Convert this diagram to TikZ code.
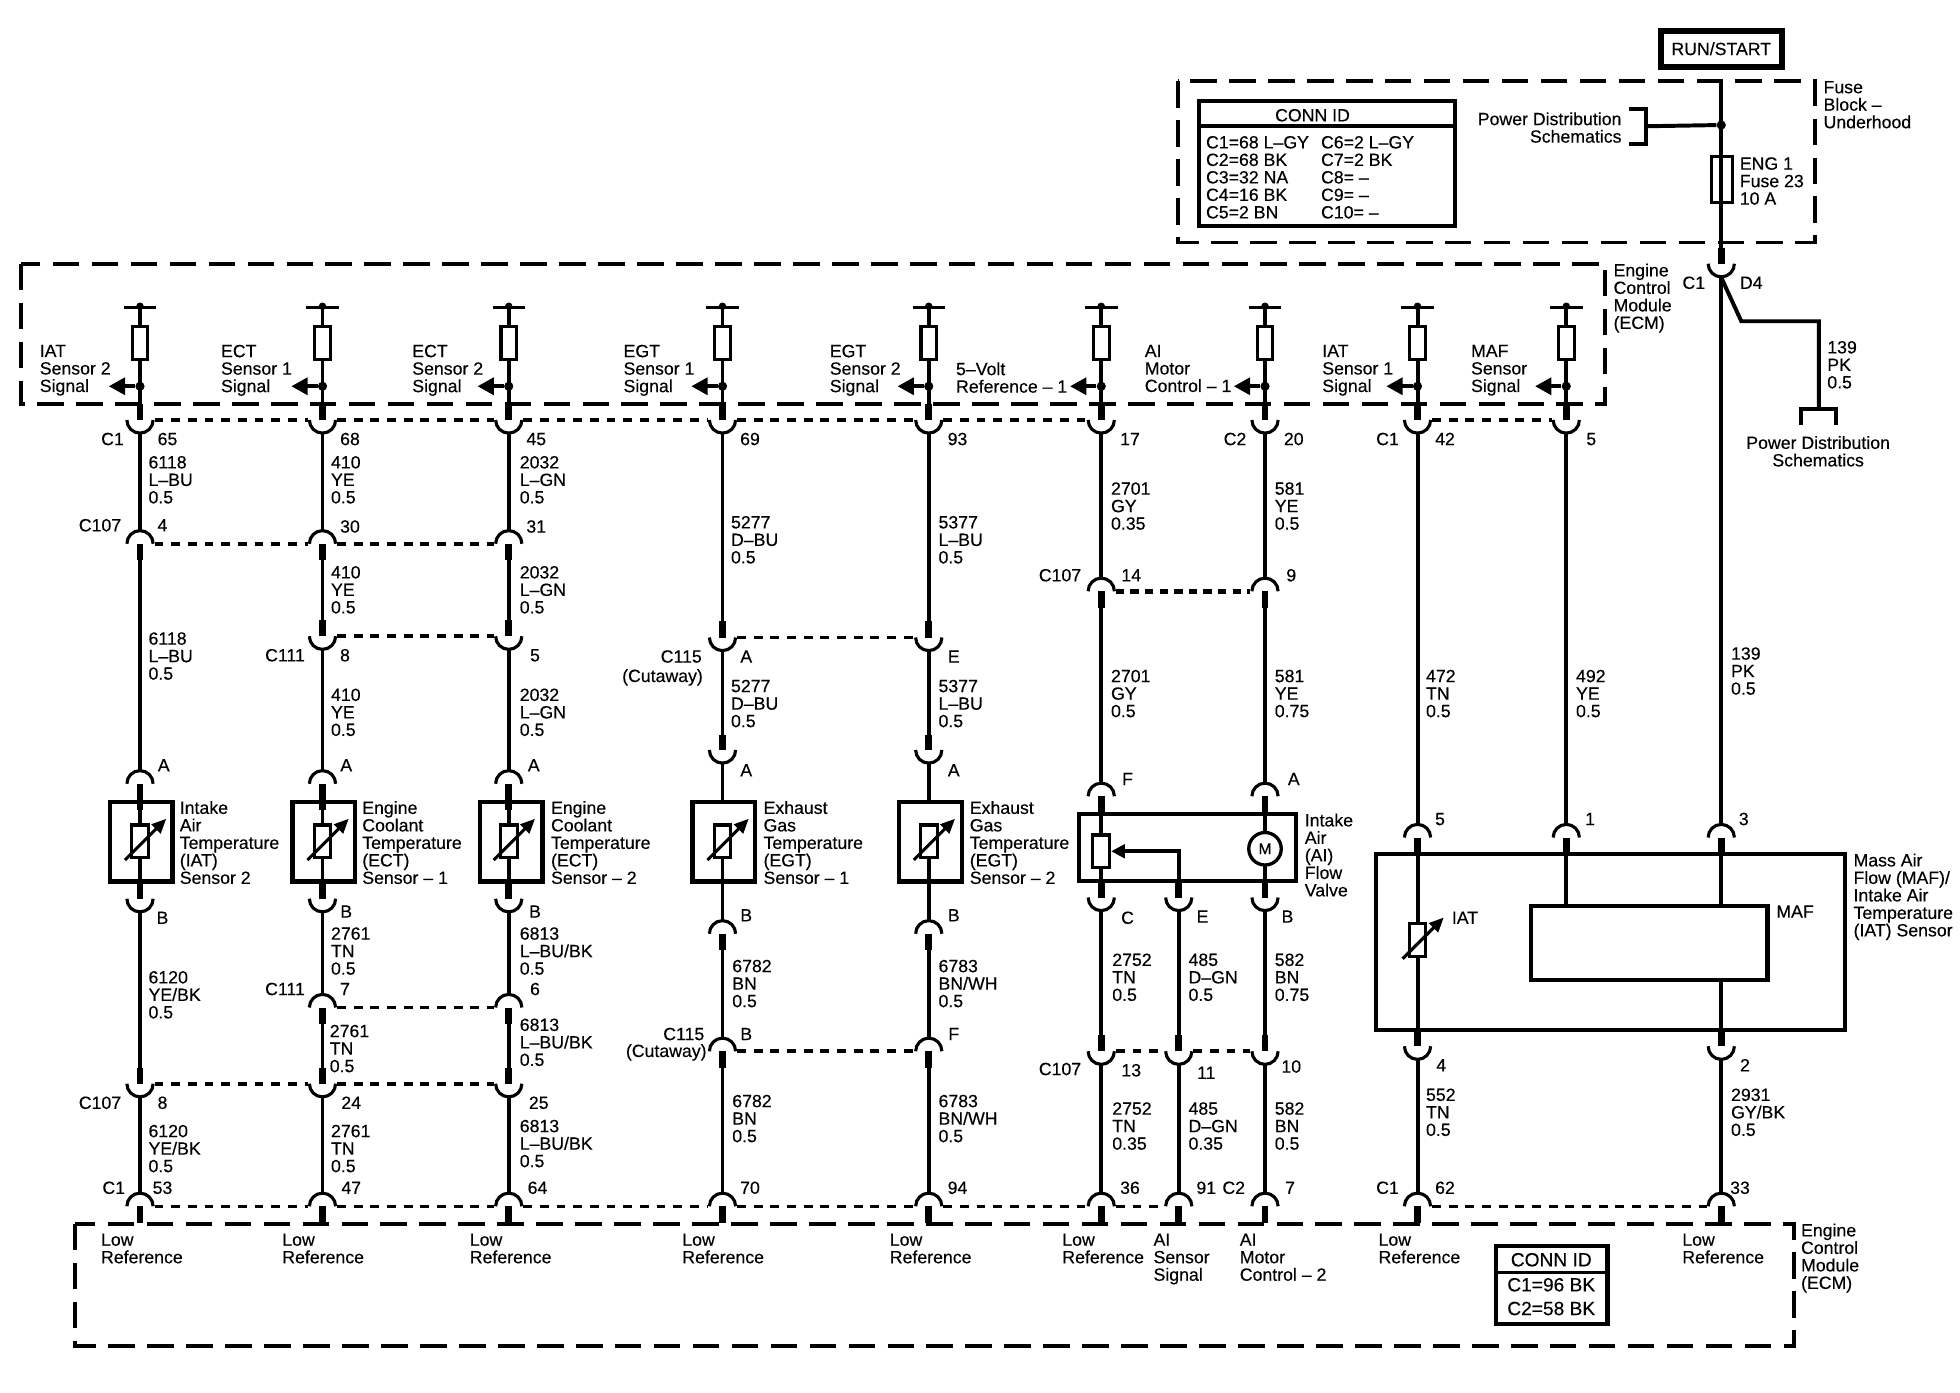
\documentclass[tikz,border=0pt]{standalone}
\usepackage{fontspec}
\setmainfont{Liberation Sans}[FakeBold=0.3]
\usepackage{tikz}
\usetikzlibrary{arrows.meta}

\tikzset{
  wire/.style={line width=1.9pt},
  stub/.style={line width=3.3pt},
  conn/.style={line width=1.5pt},
  conndash/.style={line width=1.7pt,dash pattern=on 4.2pt off 3.8pt,shorten <=7pt,shorten >=7pt},
  frame/.style={line width=1.9pt,dash pattern=on 12.8pt off 5.9pt},
  boxline/.style={line width=1.8pt},
  sensor/.style={draw,line width=2pt,minimum width=30pt,minimum height=38pt,inner sep=0pt},
  pinres/.style={draw,fill=white,line width=1.5pt,minimum width=7.5pt,minimum height=16pt,inner sep=0pt},
  dot/.style={circle,fill=black,minimum size=4.4pt,inner sep=0pt},
  wirelbl/.style={anchor=north west,inner sep=0pt,align=left,yshift=3.3pt,xshift=-0.3pt,
    font=\fontsize{8.5}{8.4}\selectfont,execute at begin node=\strut},
  rightlbl/.style={wirelbl,anchor=north east,align=right},
  midlbl/.style={wirelbl,anchor=north,align=center},
  pinlbl/.style={anchor=center,inner sep=0pt,text height=6.1pt,text depth=0pt,
    font=\fontsize{8.5}{8.4}\selectfont}
}

% connector open upwards, stub comes from above
\newcommand{\cupconn}[4][13]{%
  \coordinate (#2) at (#3,#4);
  \coordinate (#2t) at (#3,#4-#1);
  \coordinate (#2b) at (#3,#4+11);
  \draw[stub] (#2t) -- (#2);
  \draw[conn] (#3-10.5,#4) arc[start angle=180,end angle=0,radius=10.5];
}
% connector open downwards, stub leaves below
\newcommand{\capconn}[4][13]{%
  \coordinate (#2) at (#3,#4);
  \coordinate (#2t) at (#3,#4-11);
  \coordinate (#2b) at (#3,#4+#1);
  \draw[stub] (#2) -- (#2b);
  \draw[conn] (#3-10.5,#4) arc[start angle=180,end angle=360,radius=10.5];
}
% pin inside the upper ECM frame
\newcommand{\ecmpin}[2]{%
  \coordinate (#1T) at (#2,246);
  \coordinate (#1E) at (#2,323);
  \coordinate (#1A) at (#2-25,309);
  \draw[wire] (#2-13,246) -- (#2+13,246);
  \node[dot,minimum size=3.6pt] (#1U) at (#2,245) {};
  \draw[wire] (#1T) -- (#1E);
  \node[pinres] (#1R) at (#2,274.5) {};
  \node[dot] (#1D) at (#2,309) {};
  \draw[wire,-{Triangle[length=7.8pt,width=8pt]}] (#1D) -- (#1A);
}
% variable resistor with its arrow
\newcommand{\thermist}[3]{%
  \node[pinres,minimum width=8pt,minimum height=15.6pt] (#1) at (#2,#3+13) {};
  \draw[conn,-{Triangle[length=7pt,width=6pt]}] (#2-12,#3+28) -- (#2+21,#3-5);
}

\begin{document}
\begin{tikzpicture}[x=0.6pt,y=-0.6pt]
\useasboundingbox (0,0) rectangle (1568,1114);

% Frames
\draw[frame] (942,65) rectangle (1452,194);
\draw[frame] (17,211) rectangle (1284,323);
\draw[frame] (60,979) rectangle (1435,1077);

% Supply
\node[draw,line width=3pt,minimum width=58pt,minimum height=17.4pt,inner sep=0pt,font=\fontsize{8.5}{8.4}\selectfont] (run) at (1377,39) {RUN/START};
\coordinate (fbtop) at (1377,65);
\cupconn{k0}{1377}{211}
\draw[wire] (fbtop) -- (k0t);
\node[dot] (pd) at (1377,100) {};
\coordinate (pdb) at (1317,101);
\draw[wire] (pd) -- (pdb);
\draw[boxline] (1303,87) -- (1317,87) -- (1317,115) -- (1303,115);
\node[pinres,fill=none,minimum width=10pt,minimum height=22pt] (fuse) at (1377.5,143.5) {};
\coordinate (pdc) at (1455,327);
\draw[wire] (k0b) -- (1393,257) -- (1455,257) -- (pdc);
\draw[boxline] (1441,340) -- (1441,327) -- (1469,327) -- (1469,340);

% ECM pins
\ecmpin{pa}{112}
\ecmpin{pb}{258}
\ecmpin{pc}{407}
\ecmpin{pd}{578}
\ecmpin{pe}{743}
\ecmpin{pf}{881}
\ecmpin{ph}{1012}
\ecmpin{pi}{1134}
\ecmpin{pj}{1253}

% Column IAT 2
\cupconn{a1}{112}{336}
\capconn{a2}{112}{435}
\capconn[21]{a3}{112}{627}
\cupconn{a4}{112}{719}
\cupconn{a5}{112}{867}
\capconn{a6}{112}{965}
\draw[wire] (a1b) -- (a2t);
\draw[wire] (a2b) -- (a3t);
\draw[wire] (a3b) -- (a4t);
\draw[wire] (a4b) -- (a5t);
\draw[wire] (a5b) -- (a6t);
\node[sensor] (sa) at (113,673.5) {};
\thermist{ta}{112}{660}

% Column ECT 1
\cupconn{b1}{258}{336}
\capconn{b2}{258}{435}
\cupconn{b3}{258}{509}
\capconn[21]{b4}{258}{627}
\cupconn{b5}{258}{719}
\capconn{b6}{258}{806}
\cupconn{b7}{258}{867}
\capconn{b8}{258}{965}
\draw[wire] (b1b) -- (b2t);
\draw[wire] (b2b) -- (b3t);
\draw[wire] (b3b) -- (b4t);
\draw[wire] (b4b) -- (b5t);
\draw[wire] (b5b) -- (b6t);
\draw[wire] (b6b) -- (b7t);
\draw[wire] (b7b) -- (b8t);
\node[sensor] (sb) at (259,673.5) {};
\thermist{tb}{258}{660}

% Column ECT 2
\cupconn{c1}{407}{336}
\capconn{c2}{407}{435}
\cupconn{c3}{407}{509}
\capconn[21]{c4}{407}{627}
\cupconn{c5}{407}{719}
\capconn{c6}{407}{806}
\cupconn{c7}{407}{867}
\capconn{c8}{407}{965}
\draw[wire] (c1b) -- (c2t);
\draw[wire] (c2b) -- (c3t);
\draw[wire] (c3b) -- (c4t);
\draw[wire] (c4b) -- (c5t);
\draw[wire] (c5b) -- (c6t);
\draw[wire] (c6b) -- (c7t);
\draw[wire] (c7b) -- (c8t);
\node[sensor] (sc) at (409,673.5) {};
\thermist{tc}{407}{660}

% Column EGT 1
\cupconn{d1}{578}{336}
\cupconn{d2}{578}{510}
\cupconn[12]{d3}{578}{600}
\capconn{d4}{578}{747}
\capconn{d5}{578}{841}
\capconn{d6}{578}{965}
\node[sensor] (sd) at (579,673.5) {};
\thermist{td}{578}{660}
\draw[wire] (d1b) -- (d2t);
\draw[wire] (d2b) -- (d3t);
\draw[wire] (d3b) -- (d3b |- sd.north);
\draw[wire] (td.south) -- (d4t);
\draw[wire] (d4b) -- (d5t);
\draw[wire] (d5b) -- (d6t);

% Column EGT 2
\cupconn{e1}{743}{336}
\cupconn{e2}{743}{510}
\cupconn[12]{e3}{743}{600}
\capconn{e4}{743}{747}
\capconn{e5}{743}{841}
\capconn{e6}{743}{965}
\node[sensor] (se) at (744.5,673.5) {};
\thermist{te}{743}{660}
\draw[wire] (e1b) -- (e2t);
\draw[wire] (e2b) -- (e3t);
\draw[wire] (e3b) -- (e3b |- se.north);
\draw[wire] (te.south) -- (e4t);
\draw[wire] (e4b) -- (e5t);
\draw[wire] (e5b) -- (e6t);

% Column AI valve
\cupconn{f1}{881}{336}
\capconn{f2}{881}{473}
\capconn{f3}{881}{637}
\cupconn{f4}{881}{718}
\cupconn{f5}{881}{841}
\capconn{f6}{881}{965}
\cupconn{g1}{943}{718}
\cupconn{g2}{943}{841}
\capconn{g3}{943}{965}
\cupconn{h1}{1012}{336}
\capconn{h2}{1012}{473}
\capconn{h3}{1012}{637}
\cupconn{h4}{1012}{718}
\cupconn{h5}{1012}{841}
\capconn{h6}{1012}{965}
\draw[wire] (f1b) -- (f2t);
\draw[wire] (f2b) -- (f3t);
\draw[wire] (f3b) -- (f4t);
\draw[wire] (f4b) -- (f5t);
\draw[wire] (f5b) -- (f6t);
\draw[wire] (g1b) -- (g2t);
\draw[wire] (g2b) -- (g3t);
\draw[wire] (h1b) -- (h2t);
\draw[wire] (h2b) -- (h3t);
\draw[wire] (h3b) -- (h4t);
\draw[wire] (h4b) -- (h5t);
\draw[wire] (h5b) -- (h6t);
\draw[line width=2pt] (863,651) rectangle (1037,705);
\node[pinres,minimum width=8pt,minimum height=15.6pt] (pot) at (881,681) {};
\draw[wire,-{Triangle[length=6.6pt,width=6.5pt]}] (g1t) |- (pot.east);
\node[circle,draw,fill=white,line width=1.6pt,minimum size=15.6pt,inner sep=0pt,font=\fontsize{7.5}{8}\selectfont] (motor) at (1012,679) {M};

% Columns MAF/IAT
\cupconn{i1}{1134}{336}
\capconn{i2}{1134}{670}
\cupconn{i3}{1134}{837}
\capconn{i4}{1134}{965}
\cupconn{j1}{1253}{336}
\capconn{j2}{1253}{670}
\capconn{k1}{1377}{670}
\cupconn{k2}{1377}{837}
\capconn{k3}{1377}{965}
\draw[wire] (i1b) -- (i2t);
\draw[wire] (i2b) -- (i3t);
\draw[wire] (i3b) -- (i4t);
\draw[wire] (j1b) -- (j2t);
\draw[wire] (k0b) -- (k1t);
\draw[wire] (k1b) -- (k2t);
\draw[wire] (k2b) -- (k3t);
\draw[line width=2pt] (1101,683) rectangle (1476,824);
\thermist{ti}{1134}{739}
\node[draw,fill=white,line width=2pt,minimum width=113.4pt,minimum height=35.4pt,inner sep=0pt] (maf) at (1319.5,754.5) {};
\draw[wire] (j2b) -- (j2b |- maf.north);

% Dashed connector bodies
\draw[conndash] (a1) -- (b1);
\draw[conndash] (b1) -- (c1);
\draw[conndash] (c1) -- (d1);
\draw[conndash] (d1) -- (e1);
\draw[conndash] (e1) -- (f1);
\draw[conndash] (i1) -- (j1);
\draw[conndash] (a2) -- (b2);
\draw[conndash] (b2) -- (c2);
\draw[conndash] (b3) -- (c3);
\draw[conndash] (d2) -- (e2);
\draw[conndash,line width=2.2pt,dash pattern=on 4pt off 3pt] (f2) -- (h2);
\draw[conndash] (b6) -- (c6);
\draw[conndash] (a5) -- (b7);
\draw[conndash] (b7) -- (c7);
\draw[conndash] (d5) -- (e5);
\draw[conndash] (f5) -- (g2);
\draw[conndash] (g2) -- (h5);
\draw[conndash,line width=1.4pt] (a6) -- (b8);
\draw[conndash,line width=1.4pt] (b8) -- (c8);
\draw[conndash,line width=1.4pt] (c8) -- (d6);
\draw[conndash,line width=1.4pt] (d6) -- (e6);
\draw[conndash,line width=1.4pt] (e6) -- (f6);
\draw[conndash,line width=1.4pt] (f6) -- (g3);
\draw[conndash,line width=1.4pt] (i4) -- (k3);

% Conn ID tables
\draw[boxline] (959,81) rectangle (1164,181);
\draw[boxline] (959,101) -- (1164,101);
\node[pinlbl] (tabhead) at (1050,92) {CONN ID};
\node[wirelbl] (tableft) at (965,114) {C1=68 L–GY\\C2=68 BK\\C3=32 NA\\C4=16 BK\\C5=2 BN};
\node[wirelbl] (tabright) at (1057,114) {C6=2 L–GY\\C7=2 BK\\C8= –\\C9= –\\C10= –};
\draw[boxline,line width=2pt] (1197,997) rectangle (1286,1059);
\draw[boxline] (1197,1018) -- (1286,1018);
\node[pinlbl,font=\fontsize{9.2}{9}\selectfont] (tab2head) at (1241,1008) {CONN ID};
\node[pinlbl,font=\fontsize{9.2}{9}\selectfont] (tab2a) at (1241,1028) {C1=96 BK};
\node[pinlbl,font=\fontsize{9.2}{9}\selectfont] (tab2b) at (1241,1047) {C2=58 BK};

% Texts for frames and supply
\node[wirelbl] (fbname) at (1459,70) {Fuse\\Block –\\Underhood};
\node[wirelbl] (ecmtop) at (1291,216) {Engine\\Control\\Module\\(ECM)};
\node[wirelbl] (ecmbot) at (1441,984) {Engine\\Control\\Module\\(ECM)};
\node[rightlbl] (pdtext) at (1298,95) {Power Distribution\\Schematics};
\node[wirelbl] (fusetext) at (1392,131) {ENG 1\\Fuse 23\\10 A};
\node[midlbl] (pdtext2) at (1455,354) {Power Distribution\\Schematics};
\node[wirelbl] (w139a) at (1462,278) {139\\PK\\0.5};
\node[pinlbl] (lc1k) at (1355,226) {C1};
\node[pinlbl] (ld4) at (1401,226) {D4};

% Texts for ECM pins
\node[wirelbl] (sg1) at (32,281) {IAT\\Sensor 2\\Signal};
\node[wirelbl] (sg2) at (177,281) {ECT\\Sensor 1\\Signal};
\node[wirelbl] (sg3) at (330,281) {ECT\\Sensor 2\\Signal};
\node[wirelbl] (sg4) at (499,281) {EGT\\Sensor 1\\Signal};
\node[wirelbl] (sg5) at (664,281) {EGT\\Sensor 2\\Signal};
\node[wirelbl] (sg6) at (765,295) {5–Volt\\Reference – 1};
\node[wirelbl] (sg7) at (916,281) {AI\\Motor\\Control – 1};
\node[wirelbl] (sg8) at (1058,281) {IAT\\Sensor 1\\Signal};
\node[wirelbl] (sg9) at (1177,281) {MAF\\Sensor\\Signal};

% Upper C1 / C2 pins
\node[pinlbl] (lc1a) at (90,351) {C1};
\node[pinlbl] (n65) at (134,351) {65};
\node[pinlbl] (n68) at (280,351) {68};
\node[pinlbl] (n45) at (429,351) {45};
\node[pinlbl] (n69) at (600,351) {69};
\node[pinlbl] (n93) at (766,351) {93};
\node[pinlbl] (n17) at (904,351) {17};
\node[pinlbl] (lc2a) at (988,351) {C2};
\node[pinlbl] (n20) at (1035,351) {20};
\node[pinlbl] (lc1i) at (1110,351) {C1};
\node[pinlbl] (n42) at (1156,351) {42};
\node[pinlbl] (n5j) at (1273,351) {5};

% Upper C107 / C111 / C115 pins
\node[pinlbl] (lc107a) at (80,420) {C107};
\node[pinlbl] (n4) at (130,420) {4};
\node[pinlbl] (n30) at (280,421) {30};
\node[pinlbl] (n31) at (429,421) {31};
\node[pinlbl] (lc107f) at (848,460) {C107};
\node[pinlbl] (n14) at (905,460) {14};
\node[pinlbl] (n9) at (1033,460) {9};
\node[pinlbl] (lc111a) at (228,524) {C111};
\node[pinlbl] (n8b) at (276,524) {8};
\node[pinlbl] (n5c) at (428,524) {5};
\node[pinlbl] (lc115a) at (545,525) {C115};
\node[pinlbl,text depth=1.8pt] (lcuta) at (530,542) {(Cutaway)};
\node[pinlbl] (pAd) at (597,525) {A};
\node[pinlbl] (pEe) at (763,525) {E};

% Sensor pins, upper side
\node[pinlbl] (pAa) at (131,612) {A};
\node[pinlbl] (pAb) at (277,612) {A};
\node[pinlbl] (pAc) at (427,612) {A};
\node[pinlbl] (pAd2) at (597,616) {A};
\node[pinlbl] (pAe2) at (763,616) {A};
\node[pinlbl] (pFf) at (902,623) {F};
\node[pinlbl] (pAh) at (1035,623) {A};
\node[pinlbl] (n5i) at (1152,655) {5};
\node[pinlbl] (n1j) at (1272,655) {1};
\node[pinlbl] (n3k) at (1395,655) {3};

% Sensor names
\node[wirelbl] (nma) at (144,646) {Intake\\Air\\Temperature\\(IAT)\\Sensor 2};
\node[wirelbl] (nmb) at (290,646) {Engine\\Coolant\\Temperature\\(ECT)\\Sensor – 1};
\node[wirelbl] (nmc) at (441,646) {Engine\\Coolant\\Temperature\\(ECT)\\Sensor – 2};
\node[wirelbl] (nmd) at (611,646) {Exhaust\\Gas\\Temperature\\(EGT)\\Sensor – 1};
\node[wirelbl] (nme) at (776,646) {Exhaust\\Gas\\Temperature\\(EGT)\\Sensor – 2};
\node[wirelbl] (nmf) at (1044,656) {Intake\\Air\\(AI)\\Flow\\Valve};
\node[wirelbl] (nmi) at (1483,688) {Mass Air\\Flow (MAF)/\\Intake Air\\Temperature\\(IAT) Sensor};
\node[pinlbl] (niat) at (1172,734) {IAT};
\node[pinlbl] (nmaf) at (1436,729) {MAF};

% Sensor pins, lower side
\node[pinlbl] (pBa) at (130,734) {B};
\node[pinlbl] (pBb) at (277,729) {B};
\node[pinlbl] (pBc) at (428,729) {B};
\node[pinlbl] (pBd) at (597,732) {B};
\node[pinlbl] (pBe) at (763,732) {B};
\node[pinlbl] (pCf) at (902,734) {C};
\node[pinlbl] (pEg) at (962,733) {E};
\node[pinlbl] (pBh) at (1030,733) {B};
\node[pinlbl] (n4i) at (1153,852) {4};
\node[pinlbl] (n2k) at (1396,852) {2};

% Lower C111 / C115 / C107 pins
\node[pinlbl] (lc111b) at (228,791) {C111};
\node[pinlbl] (n7) at (276,791) {7};
\node[pinlbl] (n6) at (428,791) {6};
\node[pinlbl] (lc115b) at (547,827) {C115};
\node[pinlbl,text depth=1.8pt] (lcutb) at (533,842) {(Cutaway)};
\node[pinlbl] (pBd2) at (597,827) {B};
\node[pinlbl] (pFe) at (763,827) {F};
\node[pinlbl] (lc107f2) at (848,855) {C107};
\node[pinlbl] (n13) at (905,856) {13};
\node[pinlbl] (n11) at (965,858) {11};
\node[pinlbl] (n10) at (1033,853) {10};
\node[pinlbl] (lc107b) at (80,882) {C107};
\node[pinlbl] (n8a) at (130,882) {8};
\node[pinlbl] (n24) at (281,882) {24};
\node[pinlbl] (n25) at (431,882) {25};

% Lower C1 / C2 pins
\node[pinlbl] (lc1b) at (91,950) {C1};
\node[pinlbl] (n53) at (130,950) {53};
\node[pinlbl] (n47) at (281,950) {47};
\node[pinlbl] (n64) at (430,950) {64};
\node[pinlbl] (n70) at (600,950) {70};
\node[pinlbl] (n94) at (766,950) {94};
\node[pinlbl] (n36) at (904,950) {36};
\node[pinlbl] (n91) at (965,950) {91};
\node[pinlbl] (lc2b) at (987,950) {C2};
\node[pinlbl] (n7h) at (1032,950) {7};
\node[pinlbl] (lc1c) at (1110,950) {C1};
\node[pinlbl] (n62) at (1156,950) {62};
\node[pinlbl] (n33) at (1392,950) {33};

% Wire data, first stretch
\node[wirelbl] (wa1) at (119,370) {6118\\L–BU\\0.5};
\node[wirelbl] (wb1) at (265,370) {410\\YE\\0.5};
\node[wirelbl] (wc1) at (416,370) {2032\\L–GN\\0.5};
\node[wirelbl] (wd1) at (585,418) {5277\\D–BU\\0.5};
\node[wirelbl] (we1) at (751,418) {5377\\L–BU\\0.5};
\node[wirelbl] (wf1) at (889,391) {2701\\GY\\0.35};
\node[wirelbl] (wh1) at (1020,391) {581\\YE\\0.5};
\node[wirelbl] (wi1) at (1141,541) {472\\TN\\0.5};
\node[wirelbl] (wj1) at (1261,541) {492\\YE\\0.5};
\node[wirelbl] (wk1) at (1385,523) {139\\PK\\0.5};

% Wire data, second stretch
\node[wirelbl] (wa2) at (119,511) {6118\\L–BU\\0.5};
\node[wirelbl] (wb2) at (265,458) {410\\YE\\0.5};
\node[wirelbl] (wc2) at (416,458) {2032\\L–GN\\0.5};
\node[wirelbl] (wb3) at (265,556) {410\\YE\\0.5};
\node[wirelbl] (wc3) at (416,556) {2032\\L–GN\\0.5};
\node[wirelbl] (wd2) at (585,549) {5277\\D–BU\\0.5};
\node[wirelbl] (we2) at (751,549) {5377\\L–BU\\0.5};
\node[wirelbl] (wf2) at (889,541) {2701\\GY\\0.5};
\node[wirelbl] (wh2) at (1020,541) {581\\YE\\0.75};

% Wire data, below the sensors
\node[wirelbl] (wa3) at (119,782) {6120\\YE/BK\\0.5};
\node[wirelbl] (wb4) at (265,747) {2761\\TN\\0.5};
\node[wirelbl] (wc4) at (416,747) {6813\\L–BU/BK\\0.5};
\node[wirelbl] (wb5) at (264,825) {2761\\TN\\0.5};
\node[wirelbl] (wc5) at (416,820) {6813\\L–BU/BK\\0.5};
\node[wirelbl] (wd3) at (586,773) {6782\\BN\\0.5};
\node[wirelbl] (we3) at (751,773) {6783\\BN/WH\\0.5};
\node[wirelbl] (wf3) at (890,768) {2752\\TN\\0.5};
\node[wirelbl] (wg3) at (951,768) {485\\D–GN\\0.5};
\node[wirelbl] (wh3) at (1020,768) {582\\BN\\0.75};

% Wire data, last stretch
\node[wirelbl] (wa4) at (119,905) {6120\\YE/BK\\0.5};
\node[wirelbl] (wb6) at (265,905) {2761\\TN\\0.5};
\node[wirelbl] (wc6) at (416,901) {6813\\L–BU/BK\\0.5};
\node[wirelbl] (wd4) at (586,881) {6782\\BN\\0.5};
\node[wirelbl] (we4) at (751,881) {6783\\BN/WH\\0.5};
\node[wirelbl] (wf4) at (890,887) {2752\\TN\\0.35};
\node[wirelbl] (wg4) at (951,887) {485\\D–GN\\0.35};
\node[wirelbl] (wh4) at (1020,887) {582\\BN\\0.5};
\node[wirelbl] (wi4) at (1141,876) {552\\TN\\0.5};
\node[wirelbl] (wk4) at (1385,876) {2931\\GY/BK\\0.5};

% Lower ECM texts
\node[wirelbl] (lra) at (81,992) {Low\\Reference};
\node[wirelbl] (lrb) at (226,992) {Low\\Reference};
\node[wirelbl] (lrc) at (376,992) {Low\\Reference};
\node[wirelbl] (lrd) at (546,992) {Low\\Reference};
\node[wirelbl] (lre) at (712,992) {Low\\Reference};
\node[wirelbl] (lrf) at (850,992) {Low\\Reference};
\node[wirelbl] (lrg) at (923,992) {AI\\Sensor\\Signal};
\node[wirelbl] (lrh) at (992,992) {AI\\Motor\\Control – 2};
\node[wirelbl] (lri) at (1103,992) {Low\\Reference};
\node[wirelbl] (lrk) at (1346,992) {Low\\Reference};
\end{tikzpicture}
\end{document}
